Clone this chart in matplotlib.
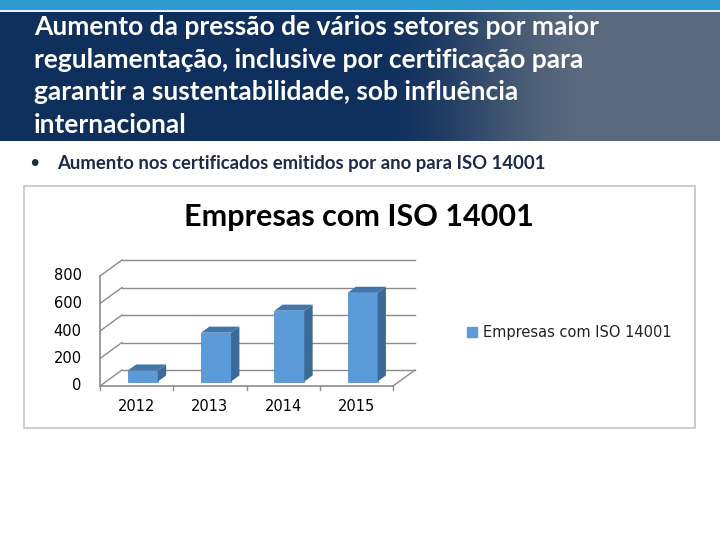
"""Slide: Empresas com ISO 14001 (3D-style column chart)."""

import matplotlib

matplotlib.use("Agg")
import matplotlib.pyplot as plt  # noqa: E402
import numpy as np  # noqa: E402
from matplotlib.patches import Polygon, Rectangle  # noqa: E402

years = ["2012", "2013", "2014", "2015"]
empresas = [80, 355, 515, 645]
y_ticks = [0, 200, 400, 600, 800]
series_name = "Empresas com ISO 14001"
chart_title = "Empresas com ISO 14001"
slide_title = ("Aumento da pressão de vários setores por maior\n"
               "regulamentação, inclusive por certificação para\n"
               "garantir a sustentabilidade, sob influência\n"
               "internacional")
bullet_text = "Aumento nos certificados emitidos por ano para ISO 14001"

W, H = 720, 540
plt.rcParams["font.family"] = ["Lato", "DejaVu Sans"]
chart_font = ["DejaVu Sans"]

fig = plt.figure(figsize=(7.2, 5.4), dpi=100)
bg = fig.add_axes([0, 0, 1, 1])
bg.set_xlim(0, W)
bg.set_ylim(H, 0)
bg.axis("off")

# header band
bg.add_patch(Rectangle((0, 0), W, 10, color="#2d9ad0", lw=0))
bg.add_patch(Rectangle((0, 10), W, 2, color="#e8f2f8", lw=0))
left = np.array([15, 47, 92]) / 255
right = np.array([90, 105, 125]) / 255
xs = np.linspace(0, 1, 400)
t = np.clip((xs - 0.52) / 0.3, 0, 1)
t = t * t * (3 - 2 * t)
grad = left[None, :] * (1 - t[:, None]) + right[None, :] * t[:, None]
bg.imshow(grad[None, :, :], extent=(0, W, 141, 12), aspect="auto", zorder=1)
bg.text(34, 76, slide_title, color="white", fontsize=19, fontweight="bold",
        va="center", ha="left", linespacing=1.43, zorder=2)

bg.text(29, 163, "•", color="#1c2b48", fontsize=13, va="center")
bg.text(57, 163, bullet_text, color="#1c2b48", fontsize=13.3,
        fontweight="bold", va="center")

# chart frame
bg.add_patch(Rectangle((24, 186), 671, 242, facecolor="white",
                       edgecolor="#c4c4c4", lw=1.2, zorder=1))
bg.text(359, 217, chart_title, fontsize=22, fontweight="bold",
        ha="center", va="center", color="black", zorder=3)

# plot area (front plane) in pixels
px0, px1, py0, py1 = 100, 393, 386, 276
ax = fig.add_axes([px0 / W, 1 - py0 / H, (px1 - px0) / W, (py0 - py1) / H])
n = len(years)
ax.set_xlim(0, n)
ax.set_ylim(0, 800)
ax.axis("off")

grid_c = "#8c8c8c"
ddx = 22 / ((px1 - px0) / n)           # full depth, category units
ddy = 16 / ((py0 - py1) / 800)         # full depth, value units

# floor, left wall, back wall gridlines
for v in y_ticks:
    ax.plot([0, ddx], [v, v + ddy], color=grid_c, lw=1, clip_on=False)
    ax.plot([ddx, n + ddx], [v + ddy, v + ddy], color=grid_c, lw=1, clip_on=False)
ax.plot([0, 0], [0, 800], color=grid_c, lw=1.2, clip_on=False)
ax.plot([0, n], [0, 0], color=grid_c, lw=1.2, clip_on=False)
ax.plot([n, n + ddx], [0, ddy], color=grid_c, lw=1, clip_on=False)
for i in range(n + 1):
    ax.plot([i, i], [0, -30], color=grid_c, lw=1, clip_on=False)
for v in y_ticks:
    ax.text(-0.25, v, str(v), ha="right", va="center", fontsize=10.5,
            family=chart_font, color="black", clip_on=False)
for i, lab in enumerate(years):
    ax.text(i + 0.5, -150, lab, ha="center", va="center", fontsize=10.5,
            family=chart_font, color="black", clip_on=False)

# bars
f0, fd = 0.28, 0.38
bw = 0.41
ox, oy = f0 * ddx, f0 * ddy
bx, by = fd * ddx, fd * ddy
centers = np.arange(n) + 0.5 + ox
front_c, side_c, top_c = "#5b9bd9", "#3b6a98", "#4277ae"
bars = ax.bar(centers, empresas, width=bw, bottom=oy, color=front_c,
              edgecolor="#4a86c0", lw=0.5, clip_on=False, zorder=3,
              label=series_name)
for b in bars:
    x0, y0 = b.get_x(), b.get_y()
    x1, y1 = x0 + b.get_width(), y0 + b.get_height()
    ax.add_patch(Polygon([(x1, y0), (x1 + bx, y0 + by), (x1 + bx, y1 + by), (x1, y1)],
                         closed=True, color=side_c, lw=0, clip_on=False, zorder=3))
    ax.add_patch(Polygon([(x0, y1), (x1, y1), (x1 + bx, y1 + by), (x0 + bx, y1 + by)],
                         closed=True, color=top_c, lw=0, clip_on=False, zorder=3))

# legend
bg.add_patch(Rectangle((467, 327), 10, 10, color=front_c, zorder=3))
bg.text(483, 332, series_name, fontsize=10.5, va="center", ha="left",
        family=chart_font, color="#222222", zorder=3)

fig.savefig("out.png", dpi=100)
